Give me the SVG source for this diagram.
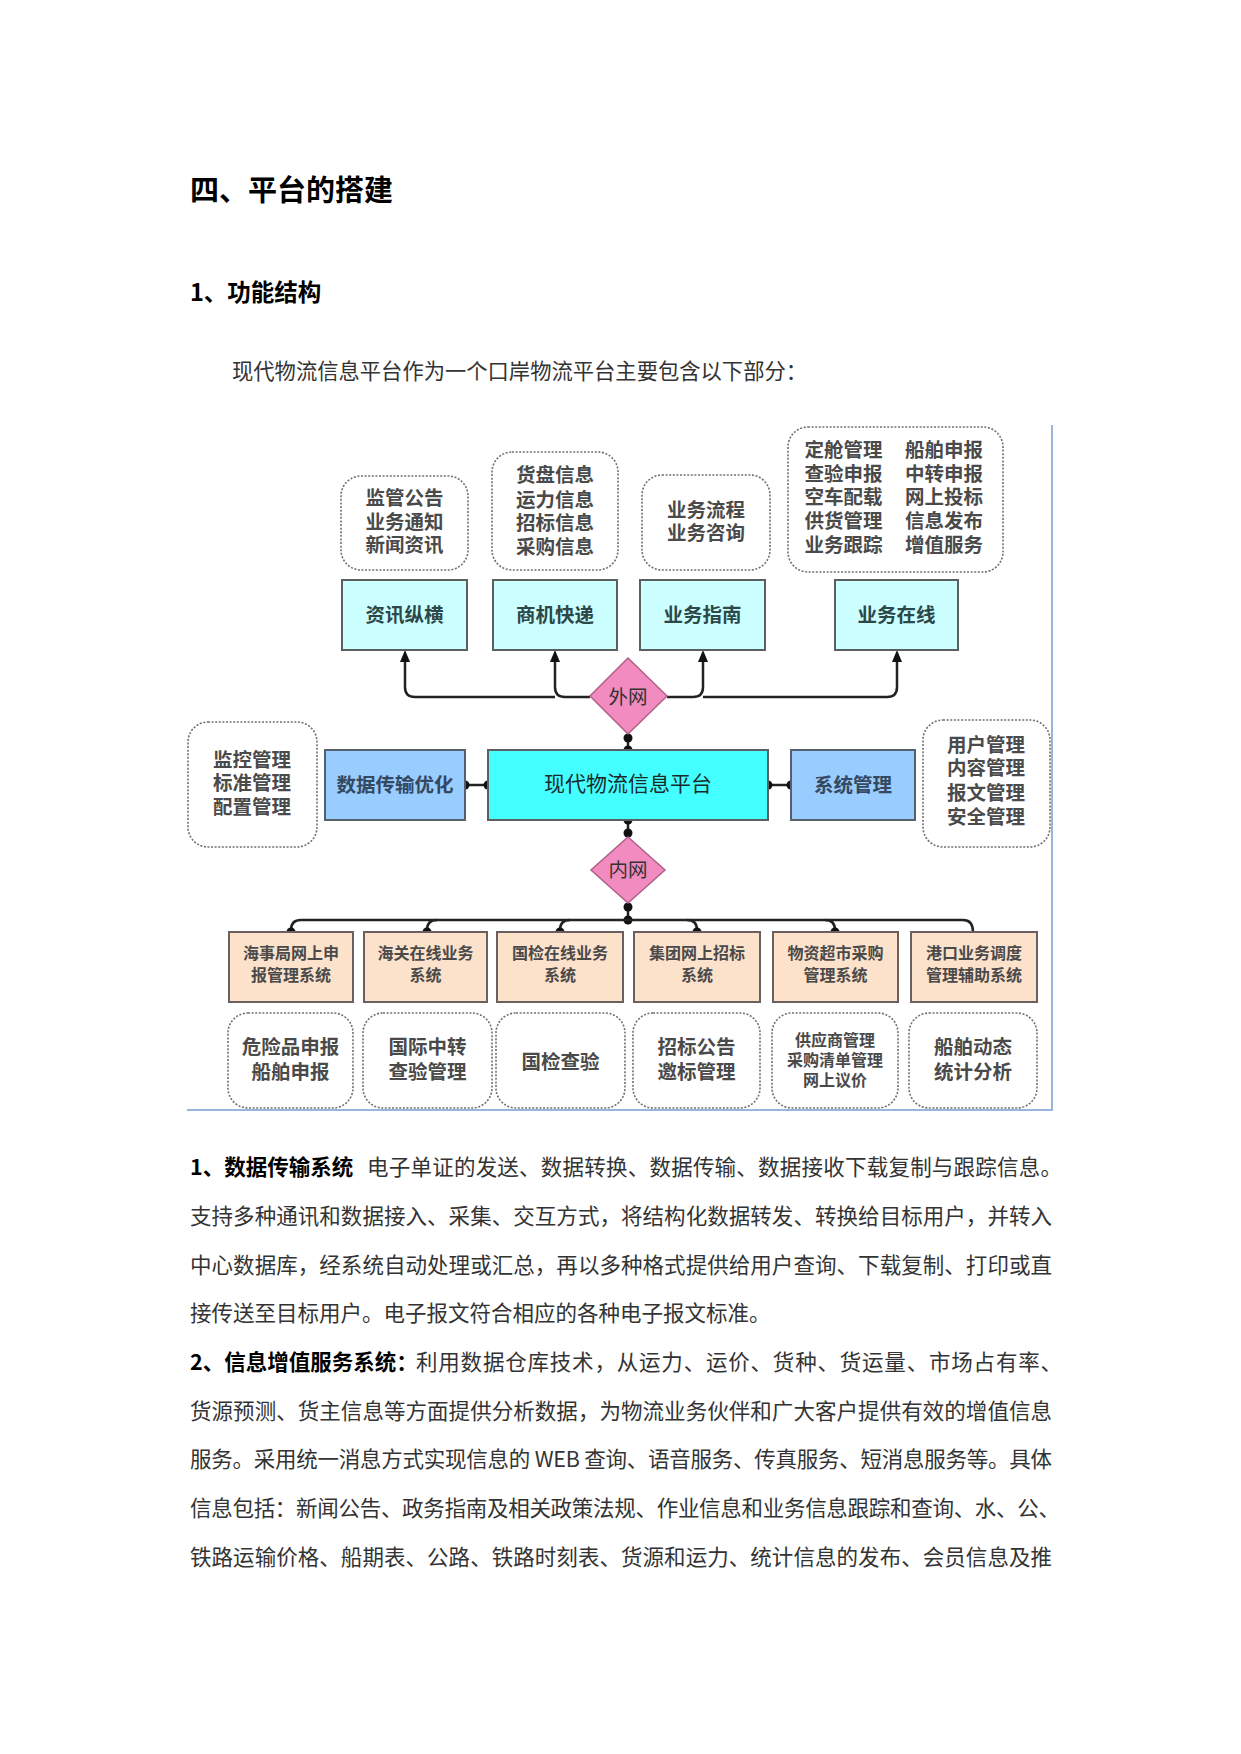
<svg xmlns="http://www.w3.org/2000/svg" width="1241" height="1754" viewBox="0 0 1241 1754">
<defs>
<style>
text{font-family:"Noto Sans CJK SC","Noto Sans",sans-serif;}
.title{font-size:29px;font-weight:bold;fill:#000;}
.sub{font-size:23.5px;font-weight:bold;fill:#000;}
.body{font-size:21.5px;fill:#333;}
.bodyb{font-size:21.5px;font-weight:bold;fill:#000;}
.dot{fill:#fff;stroke:#707070;stroke-width:1.6;stroke-dasharray:2 1.6;}
.cyan{fill:#ccffff;stroke:#5a6060;stroke-width:2;}
.core{fill:#44ffff;stroke:#5a6060;stroke-width:2;}
.blue{fill:#99ccff;stroke:#55606a;stroke-width:2;}
.peach{fill:#fde2cb;stroke:#6a6060;stroke-width:2;}
.dia{fill:#f28cc0;stroke:#b06088;stroke-width:1.5;}
.lbl{font-size:19.5px;font-weight:bold;fill:#4a4a4a;text-anchor:middle;}
.lbls{font-size:16px;font-weight:bold;fill:#4a4a4a;text-anchor:middle;}
.clbl{font-size:19.5px;font-weight:bold;fill:#2c4848;text-anchor:middle;}
.blbl{font-size:19.5px;font-weight:bold;fill:#344860;text-anchor:middle;}
.mlbl{font-size:21px;fill:#1a2a2a;text-anchor:middle;}
.dlbl{font-size:19.5px;fill:#333;text-anchor:middle;}
.wire{fill:none;stroke:#222;stroke-width:2.5;}
.jn{fill:#111;}
.frame{stroke:#9ab4e0;stroke-width:2;fill:none;}
</style>
<marker id="arr" viewBox="0 0 12 10" refX="0" refY="5" markerWidth="12" markerHeight="10" markerUnits="userSpaceOnUse" orient="auto">
<path d="M0,0 L12,5 L0,10 z" fill="#111"/>
</marker>
</defs>
<rect width="1241" height="1754" fill="#fff"/>

<text class="title" x="190" y="201">四、平台的搭建</text>
<text class="sub" x="190" y="301">1、功能结构</text>
<text class="body" x="232" y="379" style="font-size:21.3px">现代物流信息平台作为一个口岸物流平台主要包含以下部分：</text>

<!-- frame -->
<path class="frame" d="M1052,425 V1110 H187"/>

<!-- connectors -->
<g id="connectors">
<path class="wire" d="M590,697 H565 Q555,697 555,687 V662" marker-end="url(#arr)"/>
<path class="wire" d="M555,697 H415 Q405,697 405,687 V662" marker-end="url(#arr)"/>
<path class="wire" d="M667,697 H693 Q703,697 703,687 V662" marker-end="url(#arr)"/>
<path class="wire" d="M703,697 H887 Q897,697 897,687 V662" marker-end="url(#arr)"/>
<path class="wire" d="M628,734 V750"/>
<circle class="jn" cx="628" cy="738" r="4.5"/>
<circle class="jn" cx="628" cy="750" r="4.5"/>
<path class="wire" d="M465,785 H488"/>
<circle class="jn" cx="465" cy="785" r="4.5"/>
<circle class="jn" cx="488" cy="785" r="4.5"/>
<path class="wire" d="M768,785 H791"/>
<circle class="jn" cx="768" cy="785" r="4.5"/>
<circle class="jn" cx="791" cy="785" r="4.5"/>
<path class="wire" d="M628,820 V837"/>
<circle class="jn" cx="628" cy="820" r="4.5"/>
<circle class="jn" cx="628" cy="833" r="4.5"/>
<path class="wire" d="M628,903 V920"/>
<circle class="jn" cx="628" cy="907" r="4.5"/>
<circle class="jn" cx="628" cy="920" r="4.5"/>
<path class="wire" d="M628,920 H301 Q291,920 291,930"/>
<path class="wire" d="M437,920 Q427,920 427,930"/>
<path class="wire" d="M570,920 Q560,920 560,930"/>
<path class="wire" d="M628,920 H963 Q973,920 973,932"/>
<path class="wire" d="M687,920 Q697,920 697,930"/>
<path class="wire" d="M825,920 Q835,920 835,930"/>
<circle class="jn" cx="291" cy="932" r="4.5"/>
<circle class="jn" cx="427" cy="932" r="4.5"/>
<circle class="jn" cx="560" cy="932" r="4.5"/>
<circle class="jn" cx="697" cy="932" r="4.5"/>
<circle class="jn" cx="835" cy="932" r="4.5"/>
</g>

<!-- top info boxes -->
<g id="n-info1"><rect class="dot" x="341" y="476" width="127" height="94" rx="20"/>
<text class="lbl" x="404.5" y="505">监管公告</text><text class="lbl" x="404.5" y="529">业务通知</text><text class="lbl" x="404.5" y="552">新闻资讯</text></g>
<g id="n-info2"><rect class="dot" x="492" y="452" width="126" height="118" rx="20"/>
<text class="lbl" x="555" y="482">货盘信息</text><text class="lbl" x="555" y="507">运力信息</text><text class="lbl" x="555" y="530">招标信息</text><text class="lbl" x="555" y="554">采购信息</text></g>
<g id="n-info3"><rect class="dot" x="642" y="475" width="128" height="95" rx="20"/>
<text class="lbl" x="706" y="517">业务流程</text><text class="lbl" x="706" y="540">业务咨询</text></g>
<g id="n-info4"><rect class="dot" x="788" y="427" width="215" height="145" rx="20"/>
<text class="lbl" x="843.5" y="457">定舱管理</text><text class="lbl" x="944" y="457">船舶申报</text>
<text class="lbl" x="843.5" y="481">查验申报</text><text class="lbl" x="944" y="481">中转申报</text>
<text class="lbl" x="843.5" y="504">空车配载</text><text class="lbl" x="944" y="504">网上投标</text>
<text class="lbl" x="843.5" y="528">供货管理</text><text class="lbl" x="944" y="528">信息发布</text>
<text class="lbl" x="843.5" y="552">业务跟踪</text><text class="lbl" x="944" y="552">增值服务</text></g>

<!-- top cyan boxes -->
<g id="n-zxzh"><rect class="cyan" x="342" y="580" width="125" height="70"/><text class="clbl" x="404.5" y="622">资讯纵横</text></g>
<g id="n-sjkd"><rect class="cyan" x="493" y="580" width="124" height="70"/><text class="clbl" x="555" y="622">商机快递</text></g>
<g id="n-ywzn"><rect class="cyan" x="640" y="580" width="125" height="70"/><text class="clbl" x="702.5" y="622">业务指南</text></g>
<g id="n-ywzx"><rect class="cyan" x="835" y="580" width="123" height="70"/><text class="clbl" x="896.5" y="622">业务在线</text></g>

<!-- diamonds -->
<g id="n-waiwang"><polygon class="dia" points="628,658 667,696 628,734 590,696"/><text class="dlbl" x="628" y="704">外网</text></g>
<g id="n-neiwang"><polygon class="dia" points="628,837 665,870 628,903 591,870"/><text class="dlbl" x="628" y="877">内网</text></g>

<!-- middle row -->
<g id="n-left"><rect class="dot" x="188" y="722" width="129" height="125" rx="20"/>
<text class="lbl" x="252" y="767">监控管理</text><text class="lbl" x="252" y="790">标准管理</text><text class="lbl" x="252" y="814">配置管理</text></g>
<g id="n-sjcs"><rect class="blue" x="325" y="750" width="140" height="70"/><text class="blbl" x="395" y="792">数据传输优化</text></g>
<g id="n-core"><rect class="core" x="488" y="750" width="280" height="70"/><text class="mlbl" x="628" y="791">现代物流信息平台</text></g>
<g id="n-xtgl"><rect class="blue" x="791" y="750" width="124" height="70"/><text class="blbl" x="853" y="792">系统管理</text></g>
<g id="n-right"><rect class="dot" x="923" y="720" width="127" height="127" rx="20"/>
<text class="lbl" x="986" y="752">用户管理</text><text class="lbl" x="986" y="775">内容管理</text><text class="lbl" x="986" y="800">报文管理</text><text class="lbl" x="986" y="824">安全管理</text></g>

<!-- bottom systems -->
<g id="n-sys1"><rect class="peach" x="229" y="932" width="124" height="70"/><text class="lbls" x="291" y="959">海事局网上申</text><text class="lbls" x="291" y="981">报管理系统</text></g>
<g id="n-sys2"><rect class="peach" x="364" y="932" width="123" height="70"/><text class="lbls" x="425.5" y="959">海关在线业务</text><text class="lbls" x="425.5" y="981">系统</text></g>
<g id="n-sys3"><rect class="peach" x="497" y="932" width="126" height="70"/><text class="lbls" x="560" y="959">国检在线业务</text><text class="lbls" x="560" y="981">系统</text></g>
<g id="n-sys4"><rect class="peach" x="634" y="932" width="126" height="70"/><text class="lbls" x="697" y="959">集团网上招标</text><text class="lbls" x="697" y="981">系统</text></g>
<g id="n-sys5"><rect class="peach" x="773" y="932" width="125" height="70"/><text class="lbls" x="835.5" y="959">物资超市采购</text><text class="lbls" x="835.5" y="981">管理系统</text></g>
<g id="n-sys6"><rect class="peach" x="911" y="932" width="126" height="70"/><text class="lbls" x="974" y="959">港口业务调度</text><text class="lbls" x="974" y="981">管理辅助系统</text></g>

<!-- bottom details -->
<g id="n-det1"><rect class="dot" x="228" y="1013" width="125" height="95" rx="20"/><text class="lbl" x="290.5" y="1054">危险品申报</text><text class="lbl" x="290.5" y="1079">船舶申报</text></g>
<g id="n-det2"><rect class="dot" x="363" y="1013" width="129" height="95" rx="20"/><text class="lbl" x="427.5" y="1054">国际中转</text><text class="lbl" x="427.5" y="1079">查验管理</text></g>
<g id="n-det3"><rect class="dot" x="496" y="1013" width="129" height="95" rx="20"/><text class="lbl" x="560.5" y="1069">国检查验</text></g>
<g id="n-det4"><rect class="dot" x="633" y="1013" width="127" height="95" rx="20"/><text class="lbl" x="696.5" y="1054">招标公告</text><text class="lbl" x="696.5" y="1079">邀标管理</text></g>
<g id="n-det5"><rect class="dot" x="772" y="1013" width="126" height="95" rx="20"/><text class="lbls" x="835" y="1046">供应商管理</text><text class="lbls" x="835" y="1066">采购清单管理</text><text class="lbls" x="835" y="1086">网上议价</text></g>
<g id="n-det6"><rect class="dot" x="909" y="1013" width="128" height="95" rx="20"/><text class="lbl" x="973" y="1054">船舶动态</text><text class="lbl" x="973" y="1079">统计分析</text></g>

<!-- body text -->
<text class="bodyb" x="190" y="1175">1、数据传输系统</text>
<text class="body" x="367" y="1175" textLength="695" lengthAdjust="spacing">电子单证的发送、数据转换、数据传输、数据接收下载复制与跟踪信息。</text>
<text class="body" x="190" y="1224" textLength="862" lengthAdjust="spacing">支持多种通讯和数据接入、采集、交互方式，将结构化数据转发、转换给目标用户，并转入</text>
<text class="body" x="190" y="1273" textLength="862" lengthAdjust="spacing">中心数据库，经系统自动处理或汇总，再以多种格式提供给用户查询、下载复制、打印或直</text>
<text class="body" x="190" y="1321">接传送至目标用户。电子报文符合相应的各种电子报文标准。</text>
<text class="bodyb" x="190" y="1370">2、信息增值服务系统：</text>
<text class="body" x="416" y="1370" textLength="646" lengthAdjust="spacing">利用数据仓库技术，从运力、运价、货种、货运量、市场占有率、</text>
<text class="body" x="190" y="1419" textLength="862" lengthAdjust="spacing">货源预测、货主信息等方面提供分析数据，为物流业务伙伴和广大客户提供有效的增值信息</text>
<text class="body" x="190" y="1467" textLength="862" lengthAdjust="spacing">服务。采用统一消息方式实现信息的 WEB 查询、语音服务、传真服务、短消息服务等。具体</text>
<text class="body" x="190" y="1516" textLength="870" lengthAdjust="spacing">信息包括：新闻公告、政务指南及相关政策法规、作业信息和业务信息跟踪和查询、水、公、</text>
<text class="body" x="190" y="1565" textLength="862" lengthAdjust="spacing">铁路运输价格、船期表、公路、铁路时刻表、货源和运力、统计信息的发布、会员信息及推</text>
</svg>
